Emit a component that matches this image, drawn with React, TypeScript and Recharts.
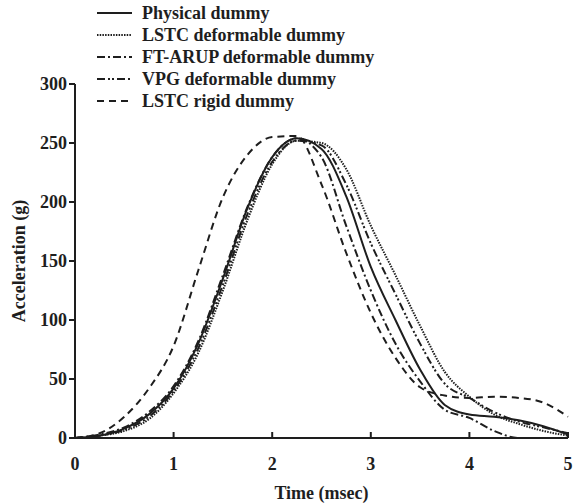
import React from "react";
import { LineChart, Line, XAxis, YAxis, Legend, Label } from "recharts";

// time axis (msec) and acceleration (g)
const time = [0, 0.25, 0.5, 0.75, 1, 1.25, 1.5, 1.75, 2, 2.25, 2.5, 2.75, 3, 3.25, 3.5, 3.75, 4, 4.25, 4.5, 4.75, 5];

const physical = [0, 2, 8, 20, 42, 80, 135, 195, 238, 254, 245, 205, 145, 100, 58, 28, 20, 18, 15, 10, 3];
const lstcDeformable = [0, 2, 6, 16, 38, 72, 125, 185, 232, 252, 250, 228, 180, 138, 95, 56, 35, 20, 12, 6, 2];
const ftArup = [0, 3, 9, 22, 44, 82, 138, 196, 238, 254, 238, 180, 125, 80, 48, 24, 17, 6, 0, 0, 0];
const vpg = [0, 2, 7, 18, 40, 76, 130, 190, 234, 252, 248, 215, 165, 122, 80, 46, 34, 22, 14, 9, 4];
const lstcRigid = [0, 4, 18, 42, 78, 142, 204, 240, 255, 256, 215, 157, 106, 68, 43, 36, 34, 35, 34, 30, 18];

const xTicks = [0, 1, 2, 3, 4, 5];
const yTicks = [0, 50, 100, 150, 200, 250, 300];

const data = time.map((t, i) => ({
  t,
  physical: physical[i],
  lstcDeformable: lstcDeformable[i],
  ftArup: ftArup[i],
  vpg: vpg[i],
  lstcRigid: lstcRigid[i],
}));

const ink = "#1e1e1e";
const font = "'Liberation Serif', 'Times New Roman', serif";
const textStyle = { fontFamily: font, fontWeight: "bold", fontSize: 18, fill: ink };

const series = [
  { key: "physical", name: "Physical dummy", dash: undefined, width: 2 },
  { key: "lstcDeformable", name: "LSTC deformable dummy", dash: "1.5 1.2", width: 2 },
  { key: "ftArup", name: "FT-ARUP deformable dummy", dash: "8 3 2 3", width: 2 },
  { key: "vpg", name: "VPG deformable dummy", dash: "8 3 2 2 2 3", width: 2 },
  { key: "lstcRigid", name: "LSTC rigid dummy", dash: "7 5", width: 2 },
];

const XTick = (props: any) => {
  const { x, y, payload } = props;
  return (
    <g>
      <line x1={x} y1={y} x2={x} y2={y - 6} stroke={ink} strokeWidth={2} />
      <text x={x} y={y + 32} textAnchor="middle" style={textStyle}>
        {payload.value}
      </text>
    </g>
  );
};

const LegendBox = () => (
  <div style={{ fontFamily: font, fontWeight: "bold", fontSize: 18, color: ink, lineHeight: "22px" }}>
    {series.map((s) => (
      <div key={s.key} style={{ display: "flex", alignItems: "center", height: 22 }}>
        <svg width={35} height={10} style={{ marginRight: 10 }}>
          <line x1={0} y1={5} x2={35} y2={5} stroke={ink} strokeWidth={s.width} strokeDasharray={s.dash} />
        </svg>
        <span style={{ whiteSpace: "nowrap" }}>{s.name}</span>
      </div>
    ))}
  </div>
);

export default function App() {
  return (
    <div style={{ position: "absolute", left: 0, top: 0, background: "#fff" }}>
      <LineChart width={574} height={504} data={data} margin={{ top: 84, right: 6, bottom: 0, left: 0 }}>
        <Legend
          content={<LegendBox />}
          layout="vertical"
          align="center"
          verticalAlign="middle"
          wrapperStyle={{ position: "absolute", left: 97, top: 2, width: "auto" }}
        />
        <XAxis
          dataKey="t"
          type="number"
          domain={[0, 5]}
          ticks={xTicks}
          height={66}
          tickSize={0}
          tickMargin={0}
          tickLine={false}
          axisLine={{ stroke: ink, strokeWidth: 2 }}
          tick={<XTick />}
        >
          <Label value="Time (msec)" position="insideBottom" offset={5} style={textStyle} />
        </XAxis>
        <YAxis
          type="number"
          domain={[0, 300]}
          ticks={yTicks}
          width={75}
          tickSize={6}
          tickMargin={2}
          axisLine={{ stroke: ink, strokeWidth: 2 }}
          tickLine={{ stroke: ink, strokeWidth: 2 }}
          tick={textStyle}
        >
          <Label
            value="Acceleration (g)"
            angle={-90}
            position="insideLeft"
            offset={19}
            style={{ ...textStyle, textAnchor: "middle" }}
          />
        </YAxis>
        {series.map((s) => (
          <Line
            key={s.key}
            dataKey={s.key}
            name={s.name}
            type="monotone"
            stroke={ink}
            strokeWidth={s.width}
            strokeDasharray={s.dash}
            dot={false}
            isAnimationActive={false}
          />
        ))}
      </LineChart>
    </div>
  );
}
